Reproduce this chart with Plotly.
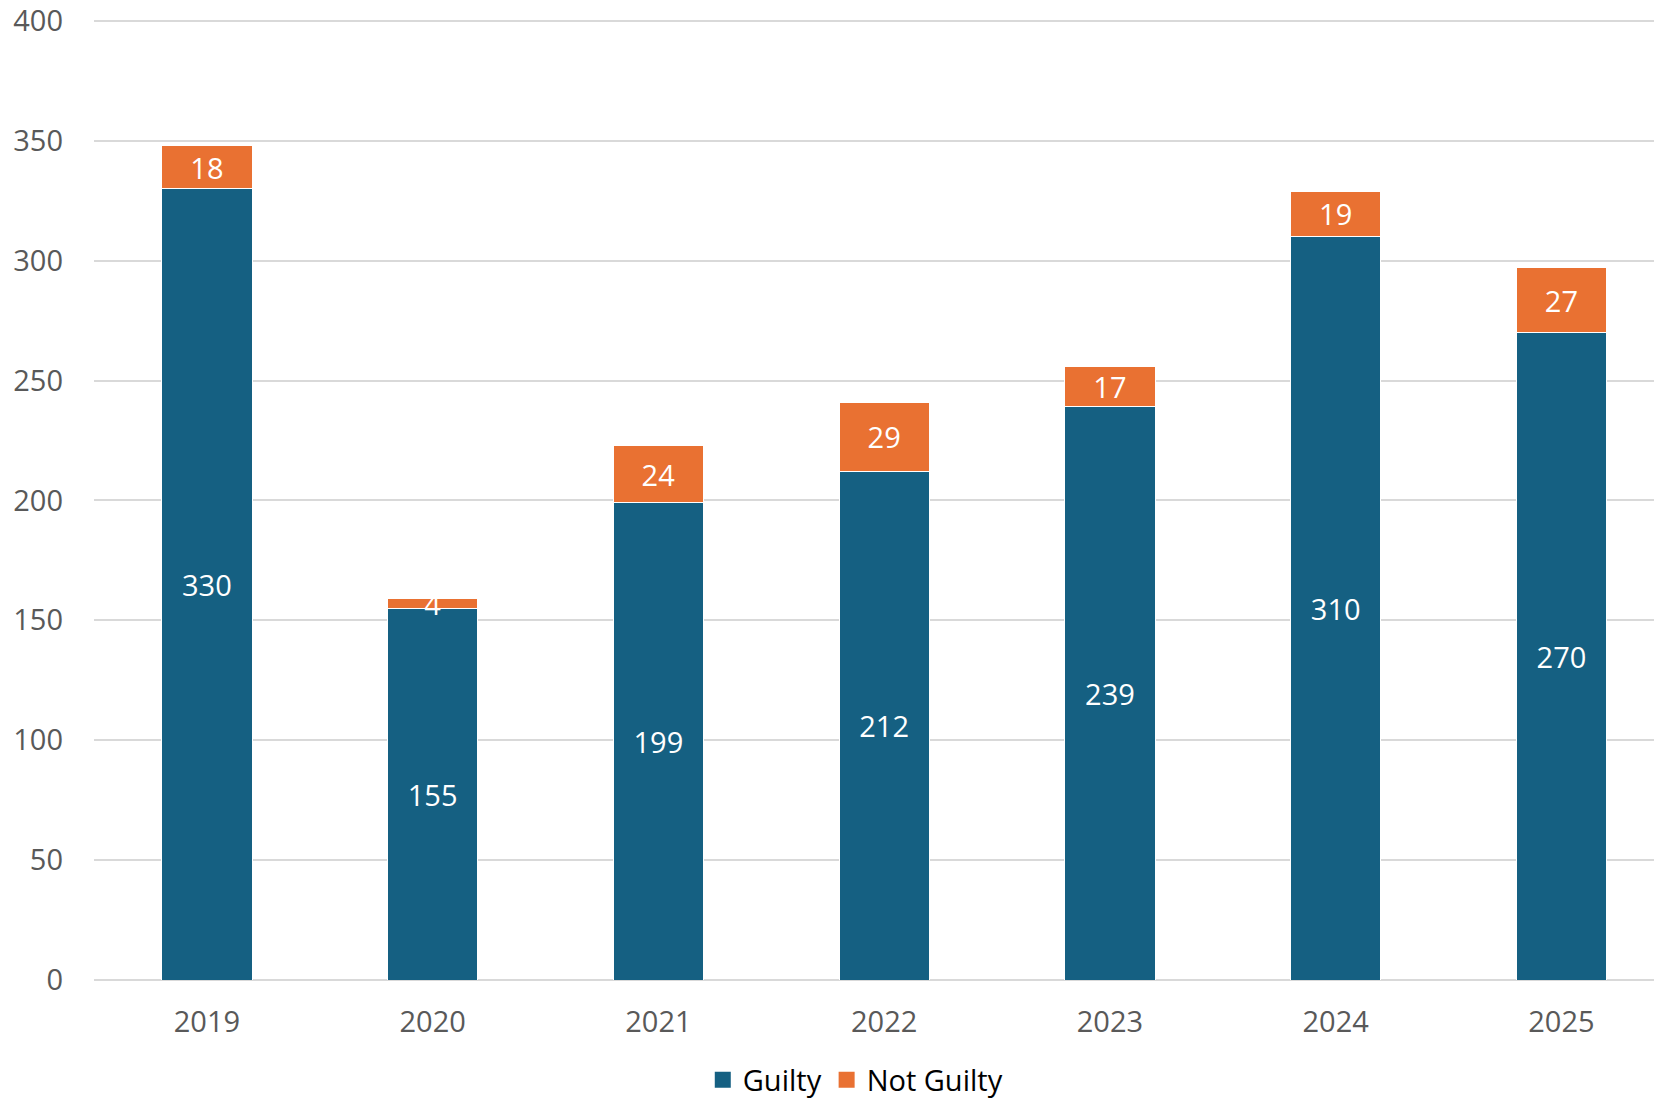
import plotly.graph_objects as go

anos = ['2019', '2020', '2021', '2022', '2023', '2024', '2025']
guilty = [330, 155, 199, 212, 239, 310, 270]
not_guilty = [18, 4, 24, 29, 17, 19, 27]
y_ticks = [0, 50, 100, 150, 200, 250, 300, 350, 400]

fonte = 'Open Sans, Liberation Sans, sans-serif'
cor_guilty = '#156082'
cor_not = '#E97132'

fig = go.Figure()
fig.add_trace(go.Bar(
    x=anos, y=guilty, name='Guilty', showlegend=False,
    marker=dict(color=cor_guilty, line=dict(color='#FFFFFF', width=1)),
    text=guilty, textposition='inside', insidetextanchor='middle',
    constraintext='none', textangle=0,
    textfont=dict(color='white', size=29, family=fonte),
    width=0.4,
))
fig.add_trace(go.Bar(
    x=anos, y=not_guilty, name='Not Guilty', showlegend=False,
    marker=dict(color=cor_not, line=dict(color='#FFFFFF', width=1)),
    text=not_guilty, textposition='inside', insidetextanchor='middle',
    constraintext='none', textangle=0,
    textfont=dict(color='white', size=29, family=fonte),
    width=0.4,
))

# itens de legenda com quadrados maiores
for nome, cor in [('Guilty', cor_guilty), ('Not Guilty', cor_not)]:
    fig.add_trace(go.Scatter(
        x=[None], y=[None], mode='markers', name=nome,
        marker=dict(symbol='square', size=16, color=cor),
    ))

fig.update_layout(
    barmode='stack',
    width=1654, height=1100,
    margin=dict(l=94, r=0, t=19, b=120, autoexpand=False),
    plot_bgcolor='white', paper_bgcolor='white',
    font=dict(family=fonte, size=29, color='#595959'),
    showlegend=True,
    legend=dict(
        orientation='h', x=0.488, xanchor='center', y=-0.104, yanchor='middle',
        font=dict(size=29, color='#000000'), traceorder='normal',
        itemwidth=30, tracegroupgap=0,
    ),
)
fig.update_xaxes(
    type='category', range=[-0.5, 6.41],
    showgrid=False, showline=False, ticks='',
    ticklabelstandoff=22, automargin=False,
)
fig.update_yaxes(
    range=[0, 400.8], tickvals=y_ticks,
    showgrid=True, gridcolor='#D9D9D9', gridwidth=1.5,
    zeroline=True, zerolinecolor='#D9D9D9', zerolinewidth=1.5,
    showline=False, ticks='', ticklabelstandoff=30, automargin=False,
    ticklabeloverflow='allow',
)

# tira a margem padrão do body para a figura ocupar a janela inteira
fig.write_html('out.html', config={'displayModeBar': False},
               post_script="document.body.style.margin='0';")
